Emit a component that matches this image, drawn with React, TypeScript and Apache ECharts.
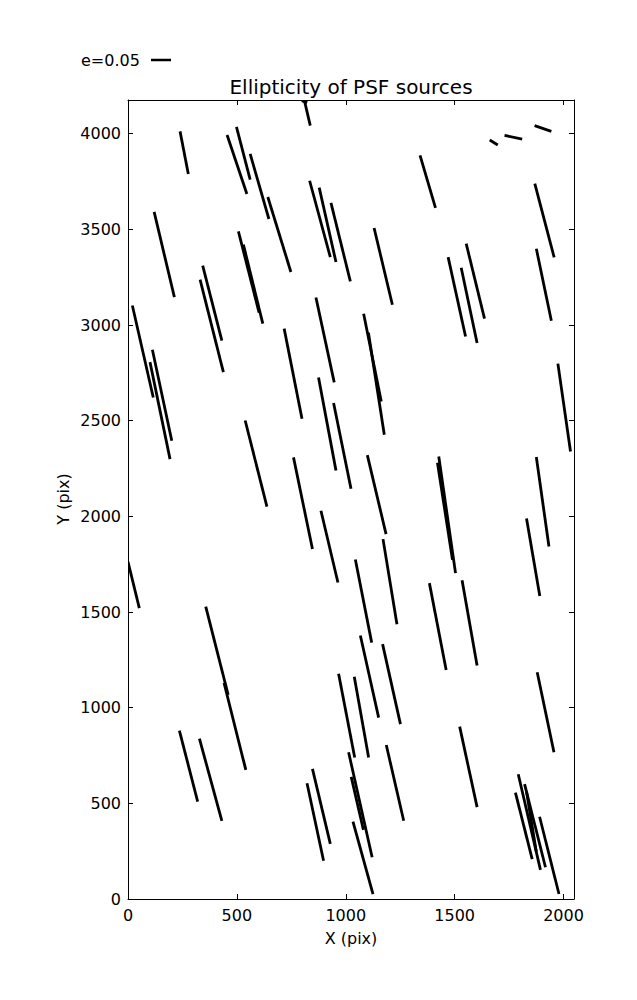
import React, { useEffect, useRef } from "react";
import * as echarts from "echarts";

// Segment endpoints (data units, pixels of the detector)
const xStart = [239, 455, 498, 561, 807, 798, 834, 878, 932, 1341, 1661, 1729, 1867, 1868, 120, 642, 507, 530, 331, 343, 863, 1130, 1470, 1530, 1553, 1875, 20, 101, 112, 717, 875, 944, 1082, 1104, 1974, 538, 760, 886, 1099, 1427, 1421, 1875, 1830, 1171, 1044, 1384, 1534, 0, 357, 441, 967, 1039, 1067, 1169, 1879, 236, 328, 822, 847, 1013, 1025, 1033, 1186, 1523, 1792, 1779, 1821, 1830, 1890];
const yStart = [4012, 3993, 4035, 3894, 4188, 4173, 3754, 3718, 3638, 3887, 3967, 3991, 4042, 3739, 3591, 3669, 3489, 3420, 3237, 3310, 3144, 3507, 3355, 3299, 3425, 3399, 3102, 2806, 2871, 2981, 2726, 2592, 3059, 2960, 2798, 2501, 2308, 2029, 2320, 2313, 2280, 2310, 1989, 1881, 1774, 1651, 1666, 1762, 1528, 1129, 1177, 1162, 1377, 1332, 1185, 880, 838, 605, 680, 767, 638, 404, 805, 901, 652, 556, 600, 561, 430];
const xEnd = [277, 546, 561, 647, 837, 823, 929, 955, 1021, 1412, 1698, 1810, 1944, 1957, 213, 748, 602, 619, 438, 431, 947, 1214, 1550, 1603, 1637, 1944, 116, 193, 201, 799, 955, 1024, 1163, 1177, 2032, 638, 847, 964, 1185, 1504, 1490, 1933, 1891, 1235, 1119, 1461, 1603, 52, 460, 541, 1041, 1105, 1151, 1251, 1956, 320, 431, 898, 929, 1121, 1081, 1125, 1266, 1603, 1894, 1856, 1917, 1875, 1979];
const yEnd = [3789, 3685, 3760, 3554, 4042, 4162, 3355, 3329, 3228, 3612, 3941, 3972, 4012, 3353, 3146, 3277, 3064, 3007, 2754, 2918, 2700, 3106, 2940, 2906, 3033, 3022, 2621, 2299, 2395, 2510, 2240, 2144, 2600, 2426, 2339, 2051, 1829, 1654, 1907, 1703, 1773, 1842, 1584, 1436, 1340, 1197, 1220, 1520, 1067, 675, 739, 739, 948, 914, 767, 509, 408, 200, 288, 218, 361, 26, 409, 480, 152, 208, 166, 247, 26];

const xTicks = [0, 500, 1000, 1500, 2000];
const yTicks = [0, 500, 1000, 1500, 2000, 2500, 3000, 3500, 4000];
const xMax = 2048;
const yMax = 4176;

const titleText = "Ellipticity of PSF sources";
const xName = "X (pix)";
const yName = "Y (pix)";
const legendText = "e=0.05";

export default function App() {
  const ref = useRef<HTMLDivElement>(null);
  useEffect(() => {
    if (!ref.current) return;
    const chart = echarts.init(ref.current, null, { renderer: "svg" });
    const font = "DejaVu Sans";
    const data = xStart.map((x, i) => [x, yStart[i], xEnd[i], yEnd[i]]);
    const tickStyle = { show: true, inside: true, length: 5, lineStyle: { color: "#000", width: 1 } };
    const lineStyle = { show: true, onZero: false, lineStyle: { color: "#000", width: 1 } };
    chart.setOption({
      animation: false,
      backgroundColor: "#fff",
      grid: { left: 128, top: 100, width: 446, height: 799, containLabel: false, show: false },
      xAxis: [
        {
          type: "value", min: 0, max: xMax, interval: 500, position: "bottom",
          axisLine: lineStyle, axisTick: tickStyle, splitLine: { show: false },
          axisLabel: {
            color: "#000", fontFamily: font, fontSize: 16, margin: 8,
            formatter: (v: number) => (xTicks.includes(v) ? String(v) : ""),
            showMaxLabel: false,
          },
        },
        {
          type: "value", min: 0, max: xMax, interval: 500, position: "top",
          axisLine: lineStyle, axisTick: tickStyle, splitLine: { show: false }, axisLabel: { show: false },
        },
      ],
      yAxis: [
        {
          type: "value", min: 0, max: yMax, interval: 500, position: "left",
          axisLine: lineStyle, axisTick: tickStyle, splitLine: { show: false },
          axisLabel: {
            color: "#000", fontFamily: font, fontSize: 16, margin: 7,
            formatter: (v: number) => (yTicks.includes(v) ? String(v) : ""),
            showMaxLabel: false,
          },
        },
        {
          type: "value", min: 0, max: yMax, interval: 500, position: "right",
          axisLine: lineStyle, axisTick: tickStyle, splitLine: { show: false }, axisLabel: { show: false },
        },
      ],
      series: [
        {
          type: "custom",
          clip: true,
          xAxisIndex: 0,
          yAxisIndex: 0,
          data,
          encode: { x: [0, 2], y: [1, 3] },
          renderItem: (params: any, api: any) => {
            const p0 = api.coord([api.value(0), api.value(1)]);
            const p1 = api.coord([api.value(2), api.value(3)]);
            return {
              type: "line",
              shape: { x1: p0[0], y1: p0[1], x2: p1[0], y2: p1[1] },
              style: { stroke: "#000", lineWidth: 2.8, lineCap: "butt" },
            };
          },
        },
      ],
      graphic: [
        {
          type: "text", x: 351, y: 87,
          style: { text: titleText, font: `20px ${font}`, fill: "#000", align: "center", verticalAlign: "middle" },
        },
        {
          type: "text", x: 351, y: 938,
          style: { text: xName, font: `16px ${font}`, fill: "#000", align: "center", verticalAlign: "middle" },
        },
        {
          type: "text", x: 63, y: 499, rotation: Math.PI / 2,
          style: { text: yName, font: `16px ${font}`, fill: "#000", align: "center", verticalAlign: "middle" },
        },
        {
          type: "text", x: 81, y: 60,
          style: { text: legendText, font: `16px ${font}`, fill: "#000", align: "left", verticalAlign: "middle" },
        },
        {
          type: "line", shape: { x1: 151, y1: 60, x2: 171, y2: 60 },
          style: { stroke: "#000", lineWidth: 2.5 },
        },
      ],
    });
    return () => chart.dispose();
  }, []);
  return <div ref={ref} style={{ width: 637, height: 1000, margin: -8 }} />;
}
